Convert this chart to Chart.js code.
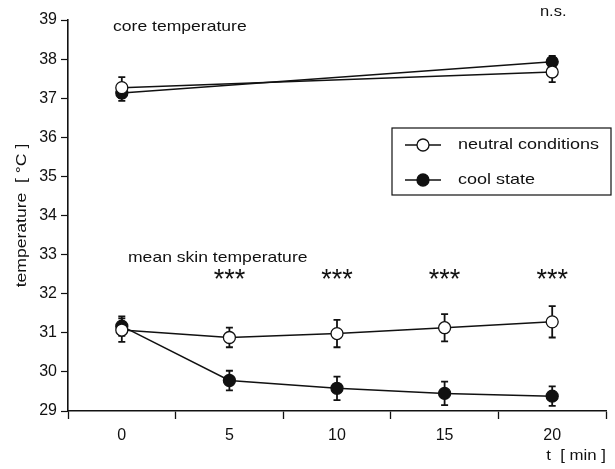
<!DOCTYPE html>
<html>
<head>
<meta charset="utf-8">
<script src="https://cdn.jsdelivr.net/npm/chart.js@4.4.1/dist/chart.umd.min.js"></script>
<style>
html,body{margin:0;padding:0;background:#fff;}
#wrap{width:615px;height:469px;position:relative;}
</style>
</head>
<body>
<div id="wrap"><canvas id="c" width="615" height="469"></canvas></div>
<script>
// ---- data ----
const timeTicks = [0, 5, 10, 15, 20];
const coreTimes = [0, 20];
const coreNeutral = [37.27, 37.67];
const coreNeutralErr = [0.27, 0.26];
const coreCool = [37.13, 37.93];
const coreCoolErr = [0.2, 0.15];
const skinTimes = [0, 5, 10, 15, 20];
const skinNeutral = [31.07, 30.88, 30.98, 31.13, 31.28];
const skinNeutralErr = [0.3, 0.25, 0.35, 0.35, 0.4];
const skinCool = [31.17, 29.78, 29.58, 29.45, 29.38];
const skinCoolErr = [0.25, 0.25, 0.3, 0.3, 0.25];
const sigLabels = ['', '***', '***', '***', '***'];
const legendLabels = ['neutral conditions', 'cool state'];
const yTitle = 'temperature  [ °C ]';
const xTitle = 't  [ min ]';

const FONT = '"Liberation Sans", Arial, sans-serif';
const pts = (xs, ys) => xs.map((x, i) => ({x: x, y: ys[i]}));

function ds(label, xs, ys, errs, filled) {
  return {
    label: label,
    data: pts(xs, ys),
    errs: errs,
    borderColor: '#111',
    borderWidth: 1.5,
    pointRadius: 6,
    pointBorderWidth: 1.3,
    pointBackgroundColor: filled ? '#111' : '#fff',
    pointBorderColor: '#111',
    showLine: true,
    tension: 0,
    fill: false
  };
}

// text drawn with a slight horizontal stretch, like the scanned original
function wideText(c, txt, x, y, size, stretch, align) {
  c.save();
  c.font = size + 'px ' + FONT;
  c.textBaseline = 'middle';
  c.textAlign = align || 'left';
  c.translate(x, y);
  c.scale(stretch, 1);
  c.fillText(txt, 0, 0);
  c.restore();
}

const errorBars = {
  id: 'errorBars',
  beforeDatasetsDraw(chart) {
    const c = chart.ctx, ys = chart.scales.y, xs = chart.scales.x;
    c.save();
    c.strokeStyle = '#111';
    c.lineWidth = 1.8;
    chart.data.datasets.forEach(d => {
      d.data.forEach((p, i) => {
        const e = d.errs[i];
        const px = xs.getPixelForValue(p.x);
        const y1 = ys.getPixelForValue(p.y + e), y2 = ys.getPixelForValue(p.y - e);
        c.beginPath();
        c.moveTo(px, y1); c.lineTo(px, y2);
        c.moveTo(px - 3.5, y1); c.lineTo(px + 3.5, y1);
        c.moveTo(px - 3.5, y2); c.lineTo(px + 3.5, y2);
        c.stroke();
      });
    });
    c.restore();
  }
};

const annotations = {
  id: 'annotations',
  afterDraw(chart) {
    const c = chart.ctx, xs = chart.scales.x, ys = chart.scales.y;
    c.save();
    c.fillStyle = '#111';
    wideText(c, 'core temperature', 113, 27, 15, 1.17, 'left');
    wideText(c, 'mean skin temperature', 128, 258, 15, 1.17, 'left');
    wideText(c, 'n.s.', xs.getPixelForValue(20) + 1, 12, 15, 1.1, 'center');
    c.font = '27px ' + FONT;
    c.textAlign = 'center';
    c.textBaseline = 'middle';
    sigLabels.forEach((s, i) => {
      if (s) c.fillText(s, xs.getPixelForValue(timeTicks[i]), 281);
    });
    // x title
    wideText(c, xTitle, 606, 456, 15, 1.12, 'right');
    // y title (rotated)
    c.save();
    c.translate(22, (ys.top + ys.bottom) / 2);
    c.rotate(-Math.PI / 2);
    wideText(c, yTitle, 0, 0, 15, 1.17, 'center');
    c.restore();
    // legend
    const bx = 392, by = 128, bw = 219, bh = 67;
    c.strokeStyle = '#111';
    c.lineWidth = 1.2;
    c.strokeRect(bx, by, bw, bh);
    const rows = [{y: 145, filled: false}, {y: 180, filled: true}];
    rows.forEach((r, i) => {
      c.beginPath();
      c.lineWidth = 1.5;
      c.moveTo(405, r.y); c.lineTo(441, r.y);
      c.stroke();
      c.beginPath();
      c.arc(423, r.y, 6, 0, Math.PI * 2);
      c.fillStyle = r.filled ? '#111' : '#fff';
      c.fill();
      c.lineWidth = 1.3;
      c.stroke();
      c.fillStyle = '#111';
      wideText(c, legendLabels[i], 458, r.y, 15, 1.2, 'left');
    });
    c.restore();
  }
};

new Chart(document.getElementById('c'), {
  type: 'scatter',
  data: {
    datasets: [
      ds('core neutral', coreTimes, coreNeutral, coreNeutralErr, false),
      ds('core cool', coreTimes, coreCool, coreCoolErr, true),
      ds('skin neutral', skinTimes, skinNeutral, skinNeutralErr, false),
      ds('skin cool', skinTimes, skinCool, skinCoolErr, true)
    ]
  },
  options: {
    responsive: false,
    animation: false,
    devicePixelRatio: 1,
    layout: {padding: {left: 0, top: 20, right: 9, bottom: 0}},
    plugins: {legend: {display: false}, tooltip: {enabled: false}},
    scales: {
      x: {
        type: 'linear',
        min: -2.5,
        max: 22.5,
        afterBuildTicks(s) {
          const t = [];
          for (let v = -2.5; v <= 22.5; v += 2.5) t.push({value: v});
          s.ticks = t;
        },
        afterFit(s) { s.height = 58; },
        ticks: {
          color: '#111',
          font: {family: FONT, size: 16},
          padding: 7,
          maxRotation: 0,
          autoSkip: false,
          callback: v => (v % 5 === 0 && timeTicks.includes(v)) ? String(v) : ''
        },
        grid: {
          drawOnChartArea: false,
          tickLength: 8,
          tickWidth: 1.3,
          tickColor: ctx => (ctx.tick && ctx.tick.value % 5 === 0) ? 'rgba(0,0,0,0)' : '#111'
        },
        border: {display: true, color: '#111', width: 1.6}
      },
      y: {
        type: 'linear',
        min: 29,
        max: 39,
        afterFit(s) { s.width = 68; },
        ticks: {
          stepSize: 1,
          color: '#111',
          font: {family: FONT, size: 16},
          padding: 4
        },
        grid: {drawOnChartArea: false, tickLength: 7, tickWidth: 1.2, tickColor: '#111'},
        border: {display: true, color: '#111', width: 1.6}
      }
    }
  },
  plugins: [errorBars, annotations]
});
</script>
</body>
</html>
